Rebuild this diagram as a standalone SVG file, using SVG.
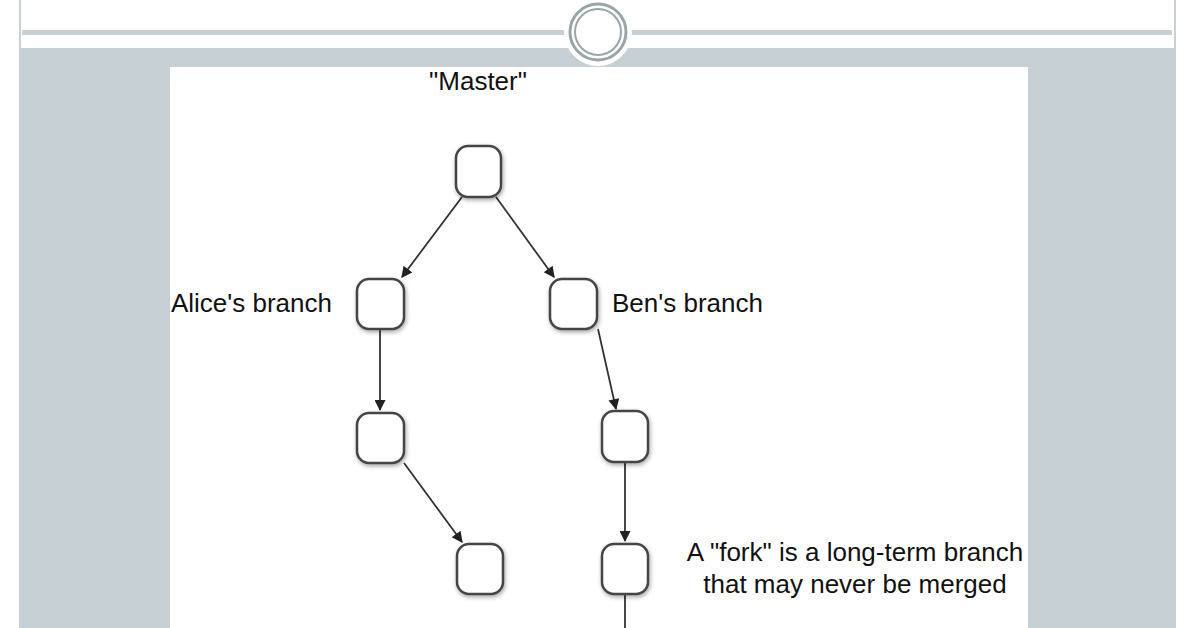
<svg xmlns="http://www.w3.org/2000/svg" width="1196" height="628" viewBox="0 0 1196 628">
<defs>
<style>
.n{fill:#fff;stroke:#444;stroke-width:2.5}
.e{stroke:#333;stroke-width:1.8;fill:none;marker-end:url(#a)}
.t{font-family:"Liberation Sans",Arial,sans-serif;font-size:26px;fill:#111}
</style>
<marker id="a" viewBox="0 0 10 10" refX="9" refY="5" markerWidth="13" markerHeight="11" orient="auto" markerUnits="userSpaceOnUse"><path d="M0,0 L10,5 L0,10 z" fill="#222"/></marker>
<filter id="s" x="-30%" y="-30%" width="160%" height="160%"><feDropShadow dx="1" dy="2" stdDeviation="2" flood-color="#000" flood-opacity="0.35"/></filter>
</defs>
<rect width="1196" height="628" fill="#fff"/>
<rect x="20" y="48" width="1155" height="580" fill="#c7d0d4"/>
<line x1="20" y1="0" x2="20" y2="628" stroke="#c7d0d4" stroke-width="2"/>
<line x1="1175" y1="0" x2="1175" y2="628" stroke="#c7d0d4" stroke-width="2"/>
<rect x="22" y="30" width="1150" height="5" fill="#c7d0d4"/>
<circle cx="598" cy="32" r="34" fill="#fff"/>
<circle cx="598" cy="32" r="28" fill="none" stroke="#9aa5a8" stroke-width="3"/>
<circle cx="598" cy="32" r="23" fill="#fff" stroke="#9aa5a8" stroke-width="2"/>
<rect x="170" y="67" width="858" height="561" fill="#fff"/>
<text class="t" x="478" y="90" text-anchor="middle">"Master"</text>
<g id="connectors">
<line class="e" x1="462" y1="197" x2="402" y2="277"/>
<line class="e" x1="496" y1="197" x2="554" y2="277"/>
<line class="e" x1="380" y1="329" x2="380" y2="410"/>
<line class="e" x1="598" y1="329" x2="616" y2="409"/>
<line class="e" x1="404" y1="463" x2="462" y2="542"/>
<line class="e" x1="625" y1="462" x2="625" y2="541"/>
<line x1="625" y1="594" x2="625" y2="628" stroke="#333" stroke-width="1.8"/>
</g>
<g id="master" filter="url(#s)"><rect class="n" x="456" y="146" width="45" height="51" rx="12"/></g>
<g id="alice1" filter="url(#s)"><rect class="n" x="357" y="279" width="47" height="50" rx="12"/></g>
<text class="t" x="332" y="312" text-anchor="end">Alice's branch</text>
<g id="ben1" filter="url(#s)"><rect class="n" x="550" y="279" width="47" height="50" rx="12"/></g>
<text class="t" x="612" y="312">Ben's branch</text>
<g id="alice2" filter="url(#s)"><rect class="n" x="357" y="413" width="47" height="50" rx="12"/></g>
<g id="ben2" filter="url(#s)"><rect class="n" x="602" y="411" width="46" height="51" rx="12"/></g>
<g id="alice3" filter="url(#s)"><rect class="n" x="457" y="544" width="46" height="50" rx="12"/></g>
<g id="ben3" filter="url(#s)"><rect class="n" x="602" y="544" width="46" height="50" rx="12"/></g>
<text class="t" x="855" y="561" text-anchor="middle">A "fork" is a long-term branch</text>
<text class="t" x="855" y="593" text-anchor="middle">that may never be merged</text>
</svg>
